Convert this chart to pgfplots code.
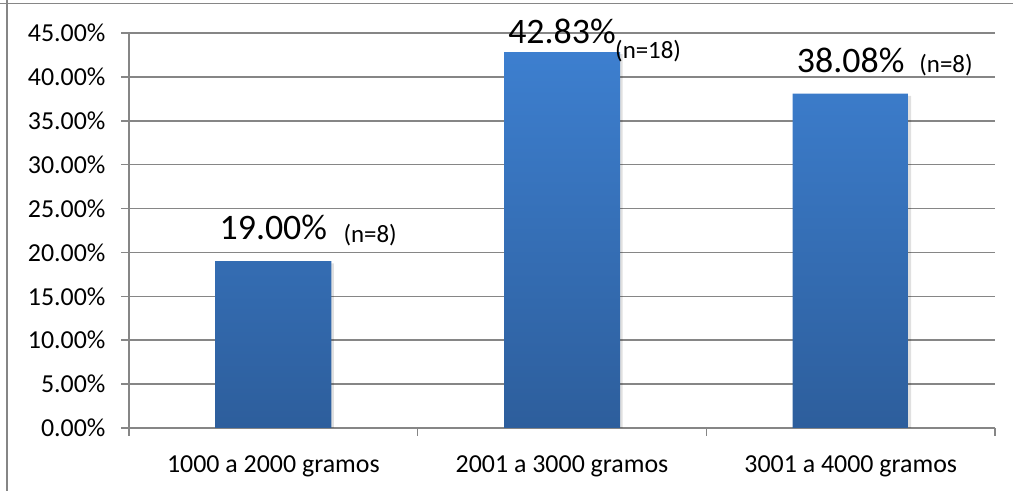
\documentclass[border=0pt]{standalone}
\usepackage{fontspec}
\setmainfont{Carlito}
\usepackage{pgfplots}
\pgfplotsset{compat=1.18}
\definecolor{gridgray}{RGB}{134,134,134}
\definecolor{bartop}{RGB}{61,127,207}
\definecolor{barbot}{RGB}{45,94,156}
\begin{document}
\begin{tikzpicture}[x=1bp,y=1bp]
\useasboundingbox (0,0) rectangle (1013,491);
\draw[gridgray, line width=1.5bp] (0,487.5) -- (1013,487.5);
\draw[gridgray, line width=1.5bp] (7,0) -- (7,491);
\begin{axis}[
  at={(129bp,63bp)}, anchor=south west,
  scale only axis, width=866bp, height=395bp,
  xmin=0.5, xmax=3.5, ymin=0, ymax=45,
  axis lines*=left,
  ytick={0,5,...,45},
  xtick={0.5,1.5,2.5,3.5}, xticklabels={,,,},
  extra x ticks={1,2,3},
  extra x tick labels={1000 a 2000 gramos,2001 a 3000 gramos,3001 a 4000 gramos},
  extra x tick style={major tick length=0pt},
  ymajorgrids, major grid style={gridgray, line width=1.5bp},
  axis line style={gridgray, line width=1.5bp},
  tick style={gridgray, line width=1.5bp},
  tick align=outside,
  major tick length=8bp,
  /pgf/number format/assume math mode=true,
  yticklabel={\pgfmathprintnumber[fixed,fixed zerofill,precision=2]{\tick}\%},
  ticklabel style={font=\fontsize{26}{30}\selectfont, text=black},
  yticklabel style={xshift=-12bp},
  xticklabel style={yshift=-24bp},
  clip=false,
]
\addplot[ybar, bar width=116bp, bar shift=2.5bp, draw=none, fill=black, fill opacity=0.12]
  coordinates {(1,18.75) (2,42.58) (3,37.83)};
\addplot[ybar, bar width=116bp, bar shift=0pt, draw=none, top color=bartop, bottom color=barbot]
  coordinates {(1,19.00) (2,42.83) (3,38.08)};
\node[anchor=base, inner sep=0pt, font=\fontsize{36}{40}\selectfont, yshift=22bp] at (axis cs:1,19.00) {19.00\%};
\node[anchor=base west, inner sep=0pt, font=\fontsize{25}{30}\selectfont, xshift=70bp, yshift=19bp] at (axis cs:1,19.00) {(n=8)};
\node[anchor=base, inner sep=0pt, font=\fontsize{36}{40}\selectfont, yshift=9bp] at (axis cs:2,42.83) {42.83\%};
\node[anchor=base west, inner sep=0pt, font=\fontsize{25}{30}\selectfont, xshift=53bp, yshift=-6.5bp] at (axis cs:2,42.83) {(n=18)};
\node[anchor=base, inner sep=0pt, font=\fontsize{36}{40}\selectfont, yshift=21.7bp] at (axis cs:3,38.08) {38.08\%};
\node[anchor=base west, inner sep=0pt, font=\fontsize{25}{30}\selectfont, xshift=68.5bp, yshift=21.7bp] at (axis cs:3,38.08) {(n=8)};
\end{axis}
\end{tikzpicture}
\end{document}
